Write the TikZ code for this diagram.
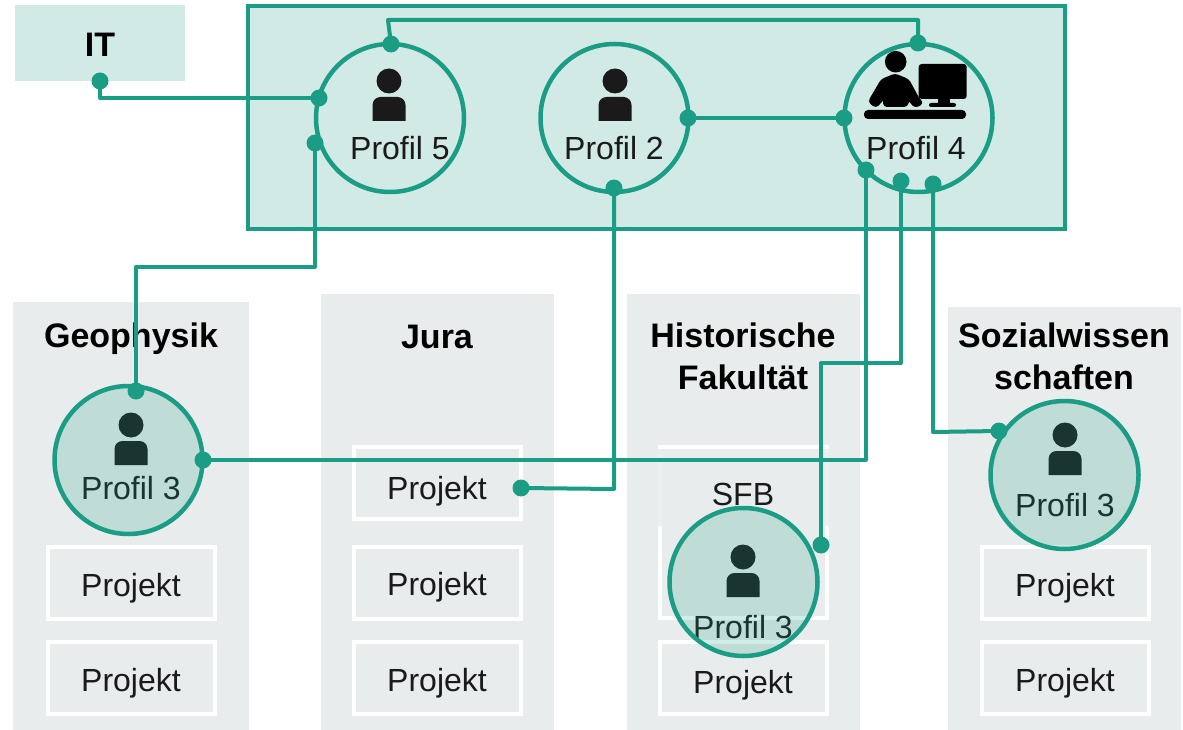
\documentclass[tikz,border=0pt]{standalone}
\usepackage{fontspec}
\setmainfont{Liberation Sans}
\definecolor{Teal}{HTML}{1B9C85}
\definecolor{PaleTeal}{HTML}{D2EAE5}
\definecolor{PanelGray}{HTML}{E8ECEC}
\definecolor{InkGray}{HTML}{1A1A1A}
\tikzset{
    panel/.style={fill=PanelGray,anchor=north west,inner sep=0pt,outer sep=0pt,minimum width=#1},
    projektbox/.style={draw=white,line width=4pt,anchor=north west,inner sep=0pt,outer sep=0pt,minimum width=167pt,minimum height=72pt},
    titletext/.style={font=\fontsize{34}{42}\selectfont\bfseries,align=center,text=black,inner sep=0pt},
    plaintext/.style={font=\fontsize{32}{38}\selectfont,text=InkGray,inner sep=0pt},
    profilring/.style={circle,draw=Teal,line width=4.5pt,minimum size=148pt,inner sep=0pt},
    joindot/.style={circle,fill=Teal,minimum size=17pt,inner sep=0pt},
    joinline/.style={draw=Teal,line width=4pt,line join=round},
    personicon/.pic={
        \fill[InkGray] (0,0) circle (12.5pt);
        \fill[InkGray] (-16.5,40) -- (-16.5,24) arc[start angle=180,end angle=90,radius=8pt] -- (8.5,16) arc[start angle=90,end angle=0,radius=8pt] -- (16.5,40) -- cycle;
    }
}
\begin{document}
\begin{tikzpicture}[x=1pt,y=-1pt]
    \useasboundingbox (0,0) rectangle (1183,730);

    \node[fill=PaleTeal,anchor=north west,inner sep=0pt,outer sep=0pt,minimum width=170pt,minimum height=76pt] (itBox) at (15,5) {};
    \node[draw=Teal,fill=PaleTeal,line width=4pt,anchor=north west,inner sep=0pt,outer sep=0pt,minimum width=817pt,minimum height=223pt] (centerBox) at (248,6) {};
    \node[titletext] (itTitle) at (100,45) {IT};

    \node[panel=236pt,minimum height=428pt] (geoPanel) at (13,302) {};
    \node[panel=233pt,minimum height=436pt] (juraPanel) at (321,294) {};
    \node[panel=233pt,minimum height=436pt] (histPanel) at (627,294) {};
    \node[panel=233pt,minimum height=423pt] (sozPanel) at (948,307) {};

    \node[titletext] (geoTitle) at (131,339) {Geophysik};
    \node[titletext] (juraTitle) at (437,337) {Jura};
    \node[titletext] (histTitle) at (743,356) {Historische\\Fakultät};
    \node[titletext] (sozTitle) at (1064,356) {Sozialwissen\\schaften};

    \node[projektbox] (geoBoxA) at (48,547) {};
    \node[projektbox] (geoBoxB) at (48,642) {};
    \node[projektbox] (juraBoxA) at (354,447) {};
    \node[projektbox] (juraBoxB) at (354,547) {};
    \node[projektbox] (juraBoxC) at (354,642) {};
    \node[projektbox,minimum height=171pt] (sfbBox) at (660,447) {};
    \fill[PanelGray,opacity=0.8] (655,449) rectangle (831,526);
    \node[projektbox] (histBox) at (660,642) {};
    \node[projektbox] (sozBoxA) at (982,547) {};
    \node[projektbox] (sozBoxB) at (982,642) {};

    \node[plaintext] at (131,588) {Projekt};
    \node[plaintext] at (131,683) {Projekt};
    \node[plaintext] at (437,491) {Projekt};
    \node[plaintext] at (437,587) {Projekt};
    \node[plaintext] at (437,683) {Projekt};
    \node[plaintext] at (743,494) {SFB};
    \node[plaintext] at (743,685) {Projekt};
    \node[plaintext] at (1065,588) {Projekt};
    \node[plaintext] at (1065,683) {Projekt};

    \pic at (389,81) {personicon};
    \pic at (615,81) {personicon};
    \pic at (131,425) {personicon};
    \pic at (743,557) {personicon};
    \pic at (1065,435) {personicon};

    \node[plaintext] at (400,148) {Profil 5};
    \node[plaintext] at (614,148) {Profil 2};
    \node[plaintext] at (916,148) {Profil 4};
    \node[plaintext] at (131,488) {Profil 3};
    \node[plaintext] at (743,627) {Profil 3};
    \node[plaintext] at (1065,505) {Profil 3};

    \fill[black] (895.7,61.7) circle (10.8pt);
    \filldraw[black,line width=2pt,line join=round,rounded corners=3pt] (869,101.7) -- (881.7,80) -- (895,74.5) -- (908.3,80) -- (918,98) -- (922.5,103.3) -- (915,107) -- (908.3,99) -- (907,106) -- (884,106) -- (884,98) -- (876,107) -- cycle;
    \fill[black,rounded corners=3pt] (918.7,64) rectangle (966.7,99);
    \fill[black] (938,99) rectangle (950,103);
    \fill[black,rounded corners=2pt] (929,103) rectangle (956,107);
    \fill[black,rounded corners=4pt] (864,110) rectangle (966,119);

    \node[profilring] (profilFive) at (390,118) {};
    \node[profilring] (profilTwo) at (614.5,118) {};
    \node[profilring] (profilFour) at (918.5,118) {};
    \node[profilring,fill=Teal,fill opacity=0.2] (profilGeo) at (128.5,460) {};
    \node[profilring,fill=Teal,fill opacity=0.2] (profilHist) at (743.5,582) {};
    \node[profilring,fill=Teal,fill opacity=0.2] (profilSoz) at (1064.5,475) {};

    \node[joindot] (itDot) at (100,81) {};
    \node[joindot] (fiveWest) at (319,98) {};
    \node[joindot] (fiveLow) at (315,143) {};
    \node[joindot] (fiveTop) at (391,44) {};
    \node[joindot] (twoEast) at (688,118) {};
    \node[joindot] (twoLow) at (614,188) {};
    \node[joindot] (fourTop) at (918,43) {};
    \node[joindot] (fourWest) at (844,118) {};
    \node[joindot] (fourLowA) at (866,170) {};
    \node[joindot] (fourLowB) at (901,181) {};
    \node[joindot] (fourLowC) at (933,184) {};
    \node[joindot] (geoTop) at (136,391) {};
    \node[joindot] (geoEast) at (203,460) {};
    \node[joindot] (juraDot) at (521,488) {};
    \node[joindot] (histDot) at (821,545) {};
    \node[joindot] (sozDot) at (999,431) {};

    \coordinate (topLeftBend) at (388,20);
    \coordinate (geoBend) at (136,267);
    \coordinate (histBend) at (821,363);
    \coordinate (juraBend) at (614,489);
    \coordinate (sozBend) at (933,432);

    \draw[joinline] (itDot.center) |- (fiveWest.center);
    \draw[joinline] (fiveLow.center) |- (geoBend) -- (geoTop.center);
    \draw[joinline] (fiveTop.center) -- (topLeftBend) -| (fourTop.center);
    \draw[joinline] (twoEast.center) -- (fourWest.center);
    \draw[joinline] (twoLow.center) -- (juraBend) -- (juraDot.center);
    \draw[joinline] (fourLowA.center) |- (geoEast.center);
    \draw[joinline] (fourLowB.center) |- (histBend) -- (histDot.center);
    \draw[joinline] (fourLowC.center) -- (sozBend) -- (sozDot.center);
\end{tikzpicture}
\end{document}
